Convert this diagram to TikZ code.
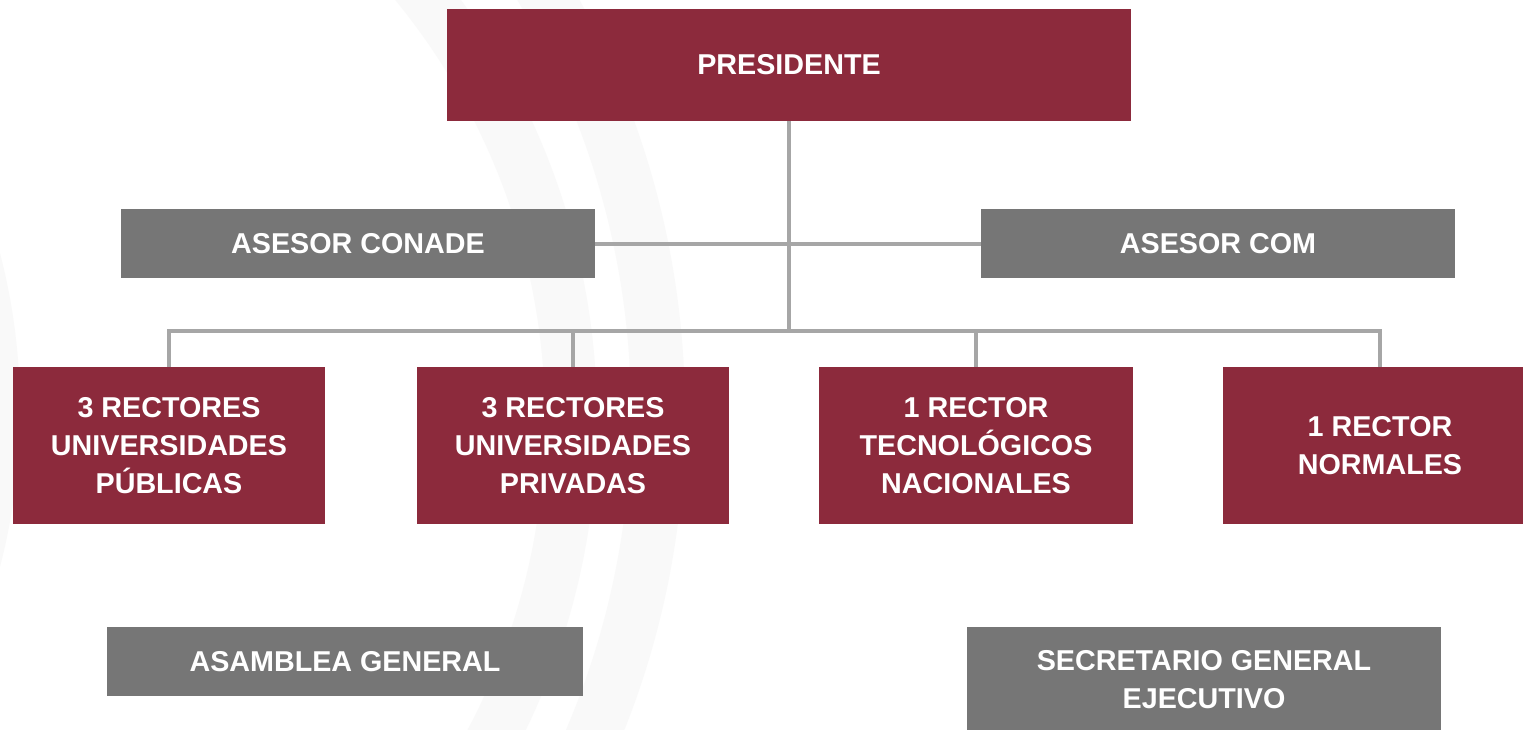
\documentclass[tikz,border=0pt]{standalone}
\usepackage{fontspec}
\setmainfont{Liberation Sans}
\definecolor{maroon}{HTML}{8C2A3C}
\definecolor{boxgray}{HTML}{767676}
\definecolor{linegray}{HTML}{A6A6A6}
\definecolor{bandgray}{HTML}{F9F9F9}
\tikzset{
  base/.style={inner sep=0pt, text=white, align=center,
    font=\bfseries\fontsize{28.7}{38}\selectfont},
  redbox/.style={base, fill=maroon, minimum width=#1, minimum height=157pt},
  graybox/.style={base, fill=boxgray, minimum width=474pt, minimum height=69pt},
  conn/.style={draw=linegray, line width=4pt},
  band/.style={draw=bandgray}
}
\begin{document}
\begin{tikzpicture}[x=1pt,y=-1pt]
\clip (0,0) rectangle (1523,729);
\fill[white] (0,0) rectangle (1523,729);
% faint background arcs
\draw[band, line width=52pt] (-116,419) circle[radius=687pt];
\draw[band, line width=54pt] (-173,412.5) circle[radius=831pt];
\draw[band, line width=50pt] (-600,410) circle[radius=595pt];
% nodes
\node[base, fill=maroon, minimum width=684pt, minimum height=112pt] (pres) at (789,65) {PRESIDENTE};
\node[graybox] (conade) at (358,243.5) {ASESOR CONADE};
\node[graybox] (com) at (1218,243.5) {ASESOR COM};
\coordinate (bus) at (789,331);
% connectors
\draw[conn] (pres.south) -- (bus);
\draw[conn] (conade.east) -- (com.west);
\node[redbox=312pt] (r1) at (169,445.5) {3 RECTORES\\UNIVERSIDADES\\PÚBLICAS};
\node[redbox=312pt] (r2) at (573,445.5) {3 RECTORES\\UNIVERSIDADES\\PRIVADAS};
\node[redbox=314pt] (r3) at (976,445.5) {1 RECTOR\\TECNOLÓGICOS\\NACIONALES};
\node[redbox=314pt] (r4) at (1380,445.5) {1 RECTOR\\NORMALES};
\draw[conn] (r1.north) |- (bus) -| (r4.north);
\draw[conn] (r2.north) -- (r2.north |- bus);
\draw[conn] (r3.north) -- (r3.north |- bus);
\node[graybox, minimum width=476pt] (asam) at (345,661.5) {ASAMBLEA GENERAL};
\node[graybox, minimum height=106pt] (sec) at (1204,680) {SECRETARIO GENERAL\\EJECUTIVO};
\end{tikzpicture}
\end{document}
